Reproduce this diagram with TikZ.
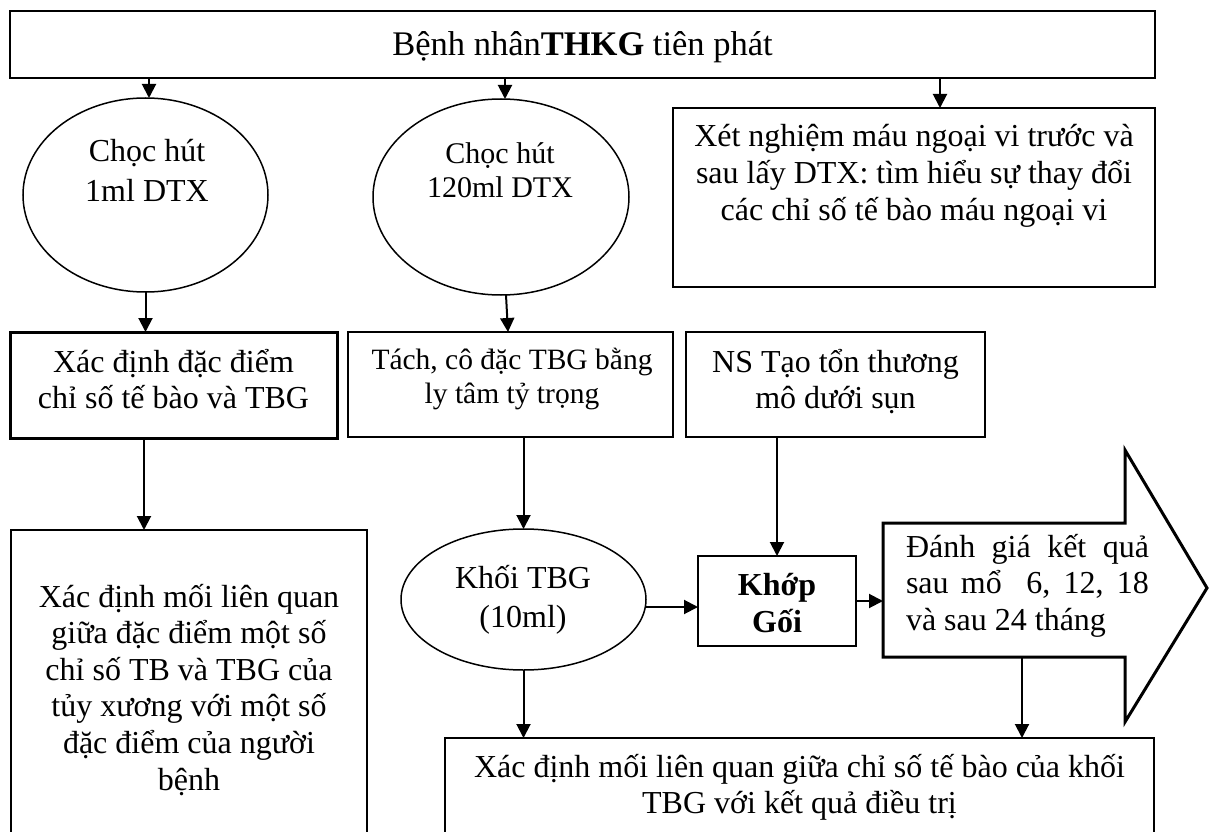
\documentclass[tikz,border=0pt]{standalone}
\usepackage{fontspec}
\setmainfont{Liberation Serif}
\usetikzlibrary{shapes.geometric,arrows.meta}
\newcommand\tstrut{\rule{0pt}{1.1em}}
\begin{document}
\begin{tikzpicture}[x=1pt,y=-1pt,
  box/.style={draw, rectangle, line width=1.5pt, inner sep=0pt, outer sep=0pt},
  tbox/.style={box, line width=3pt},
  oval/.style={draw, ellipse, line width=1.5pt, inner sep=0pt, outer sep=0pt},
  txt/.style={inner sep=0pt, outer sep=0pt, align=center, anchor=north},
  arr/.style={line width=2pt, -{Triangle[width=14pt,length=14pt]}},
]
\useasboundingbox (0,0) rectangle (1211,832);
\clip (0,0) rectangle (1211,832);

% shapes
\node[box, minimum width=1145pt, minimum height=67pt] (top) at (582.5,44.5) {};
\node[oval, minimum width=245pt, minimum height=194pt] (e1) at (145.5,195) {};
\node[oval, minimum width=256pt, minimum height=196pt] (e2) at (501,197) {};
\node[box, minimum width=482pt, minimum height=179pt] (xn) at (914,197.5) {};
\node[tbox, minimum width=327pt, minimum height=106pt] (xd) at (173.5,385) {};
\node[box, minimum width=325pt, minimum height=105pt] (tc) at (510.5,384.5) {};
\node[box, minimum width=299pt, minimum height=105pt] (ns) at (835.5,384.5) {};
\node[box, minimum width=356pt, minimum height=350pt] (ll) at (189,705) {};
\node[oval, minimum width=245pt, minimum height=141pt] (kh) at (523.5,599.5) {};
\node[box, minimum width=158pt, minimum height=90pt] (kg) at (777,601) {};
\node[inner sep=0pt, outer sep=0pt, minimum width=242pt, minimum height=134pt] (ba) at (1004,590) {};
\node[box, minimum width=709pt, minimum height=142pt] (bb) at (799.5,809) {};

% big arrow outline
\draw[line width=3pt, line join=miter] (ba.north west) -- (ba.north east)
  -- ([yshift=73pt]ba.north east) -- ([xshift=82pt, yshift=2pt]ba.east)
  -- ([yshift=-65pt]ba.south east) -- (ba.south east) -- (ba.south west) -- cycle;

% texts
\node[inner sep=0pt, outer sep=0pt, anchor=base, font=\fontsize{34.5}{40}\selectfont] (topT) at (582.5,56) {Bệnh nhân\textbf{THKG} tiên phát};
\node[txt, font=\fontsize{32}{40}\selectfont] (e1T) at (147,126.8) {\tstrut Chọc hút\\1ml DTX};
\node[txt, font=\fontsize{30}{34}\selectfont] (e2T) at (500,130) {\tstrut Chọc hút\\120ml DTX};
\node[txt, font=\fontsize{32}{37}\selectfont] (xnT) at (914,111.8) {\tstrut Xét nghiệm máu ngoại vi trước và\\sau lấy DTX: tìm hiểu sự thay đổi\\các chỉ số tế bào máu ngoại vi};
\node[txt, font=\fontsize{32}{36}\selectfont] (xdT) at (173.5,336.8) {\tstrut Xác định đặc điểm\\chỉ số tế bào và TBG};
\node[txt, font=\fontsize{29.5}{33.5}\selectfont] (tcT) at (512,337.5) {\tstrut Tách, cô đặc TBG bằng\\ly tâm tỷ trọng};
\node[txt, font=\fontsize{32}{36}\selectfont] (nsT) at (835.5,336.8) {\tstrut NS Tạo tổn thương\\mô dưới sụn};
\node[txt, font=\fontsize{32}{36.6}\selectfont] (llT) at (189,571.8) {\tstrut Xác định mối liên quan\\giữa đặc điểm một số\\chỉ số TB và TBG của\\tủy xương với một số\\đặc điểm của người\\bệnh};
\node[txt, font=\fontsize{32}{39}\selectfont] (khT) at (523,552.8) {\tstrut Khối TBG\\(10ml)};
\node[txt, font=\fontsize{32}{37}\selectfont\bfseries] (kgT) at (777,559.8) {\tstrut Khớp\\Gối};
\node[txt, align=left, anchor=north west, font=\fontsize{32}{36.5}\selectfont] (baT) at (906,521.8) {\tstrut\makebox[243pt][s]{Đánh giá kết quả}\\\makebox[243pt][s]{sau mổ \ 6, 12, 18}\\và sau 24 tháng};
\node[txt, font=\fontsize{32}{36}\selectfont] (bbT) at (799.5,741.8) {\tstrut Xác định mối liên quan giữa chỉ số tế bào của khối\\TBG với kết quả điều trị};

% connectors
\coordinate (a1) at ([xshift=3.5pt]e1.north);
\coordinate (a2) at ([xshift=4pt]e2.north);
\coordinate (a3) at ([xshift=26pt]xn.north);
\coordinate (a4) at ([xshift=5pt]e2.south);
\coordinate (a5) at ([xshift=7pt]e2.south);
\coordinate (a6) at ([xshift=-29.5pt]xd.south);
\coordinate (a7) at ([yshift=-7.5pt]kh.east);
\coordinate (a8) at ([xshift=18pt]ba.south);
\draw[arr] (a1 |- top.south) -- (a1);
\draw[arr] (a2 |- top.south) -- (a2);
\draw[arr] (a3 |- top.south) -- (a3);
\draw[arr] (e1.south) -- (e1.south |- xd.north);
\draw[arr] (a4) -- (a5 |- tc.north);
\draw[arr] (a6) -- (a6 |- ll.north);
\draw[arr] (kh.north |- tc.south) -- (kh.north);
\draw[arr] (kg.north |- ns.south) -- (kg.north);
\draw[arr] (a7) -- (a7 -| kg.west);
\draw[arr] (kg.east) -- (kg.east -| ba.west);
\draw[arr] (kh.south) -- (kh.south |- bb.north);
\draw[arr] (a8) -- (a8 |- bb.north);
\end{tikzpicture}
\end{document}
